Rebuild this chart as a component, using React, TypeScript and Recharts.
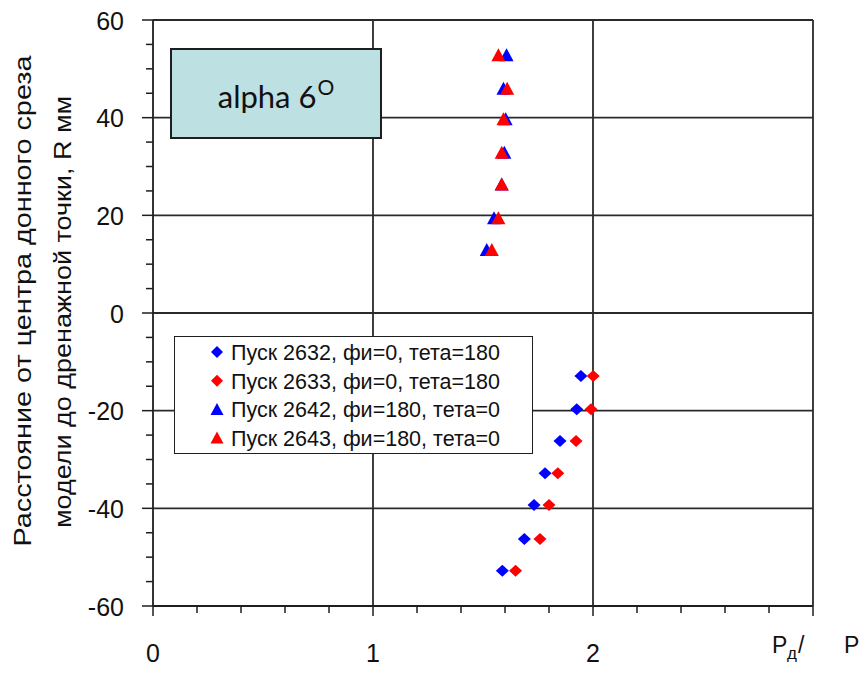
import React from 'react';
import { ScatterChart, Scatter, XAxis, YAxis, ReferenceLine, Legend, Label } from 'recharts';

// R, мм — positions of the drain points
const rUpper = [52.8, 45.9, 39.7, 32.8, 26.3, 19.4, 12.9];
const rLower = [-12.9, -19.7, -26.2, -32.8, -39.3, -46.3, -52.8];

// Pд / P for each run
const p2632 = [1.945, 1.926, 1.85, 1.782, 1.732, 1.688, 1.588];
const p2633 = [2.001, 1.991, 1.923, 1.84, 1.8, 1.759, 1.648];
const p2642 = [1.607, 1.593, 1.603, 1.597, 1.585, 1.55, 1.517];
const p2643 = [1.57, 1.61, 1.593, 1.585, 1.585, 1.57, 1.54];

const seriesNames = [
  'Пуск 2632, фи=0, тета=180',
  'Пуск 2633, фи=0, тета=180',
  'Пуск 2642, фи=180, тета=0',
  'Пуск 2643, фи=180, тета=0',
];

const xTicks = [0, 0.2, 0.4, 0.6, 0.8, 1, 1.2, 1.4, 1.6, 1.8, 2, 2.2, 2.4, 2.6, 2.8, 3];
const yTicks = [-60, -55, -50, -45, -40, -35, -30, -25, -20, -15, -10, -5, 0, 5, 10, 15, 20, 25, 30, 35, 40, 45, 50, 55, 60];
const xGrid = [1, 2, 3];
const yGrid = [-40, -20, 0, 20, 40, 60];

const BLUE = '#0000ff';
const RED = '#ff0000';
const INK = '#1e1e1e';
const FONT = '"Liberation Sans", Arial, sans-serif';

const toPoints = (xs: number[], rs: number[]) => xs.map((x, i) => ({ x, y: rs[i] }));

const diamond = (color: string) => (props: any) => {
  const { cx, cy } = props;
  return (
    <polygon
      points={`${cx},${cy - 6} ${cx + 6.5},${cy} ${cx},${cy + 6} ${cx - 6.5},${cy}`}
      fill={color}
    />
  );
};

const triangle = (color: string) => (props: any) => {
  const { cx, cy } = props;
  return (
    <polygon points={`${cx},${cy - 7} ${cx + 7},${cy + 6} ${cx - 7},${cy + 6}`} fill={color} />
  );
};

const XTick = (props: any) => {
  const { x, y, payload } = props;
  const v = payload.value;
  const major = Math.abs(v - Math.round(v)) < 1e-6;
  return (
    <g>
      <line x1={x} x2={x} y1={y} y2={y + (major ? 10 : 7)} stroke={INK} strokeWidth={1.5} />
      {major && v < 3 && (
        <text x={x} y={y + 56} textAnchor="middle" fontSize={25} fontFamily={FONT} fill="#111">
          {v}
        </text>
      )}
      {v === 3 && (
        <text y={y + 47} fontSize={23} fontFamily={FONT} fill="#111">
          <tspan x={x - 41}>P</tspan>
          <tspan x={x - 26} dy={6} fontSize={17}>
            д
          </tspan>
          <tspan x={x - 15} dy={-6}>
            /
          </tspan>
          <tspan x={x + 31}>P</tspan>
        </text>
      )}
    </g>
  );
};

const YTick = (props: any) => {
  const { x, y, payload } = props;
  const v = payload.value;
  const major = v % 20 === 0;
  return (
    <g>
      <line x1={x - (major ? 11 : 7)} x2={x} y1={y} y2={y} stroke={INK} strokeWidth={1.5} />
      {major && (
        <text x={x - 29} y={y + 9.5} textAnchor="end" fontSize={25} fontFamily={FONT} fill="#111">
          {v}
        </text>
      )}
    </g>
  );
};

const YTitle = (props: any) => {
  const { viewBox } = props;
  const mid = viewBox.y + viewBox.height / 2;
  const c1 = { x: viewBox.x + 22, y: mid - 12 };
  const c2 = { x: viewBox.x + 62, y: mid - 1 };
  return (
    <g fontFamily={FONT} fontSize={24} fill="#111">
      <text
        x={c1.x}
        y={c1.y}
        textAnchor="middle"
        dominantBaseline="central"
        textLength={491}
        lengthAdjust="spacingAndGlyphs"
        transform={`rotate(-90, ${c1.x}, ${c1.y})`}
      >
        Расстояние от центра донного среза
      </text>
      <text
        x={c2.x}
        y={c2.y}
        textAnchor="middle"
        dominantBaseline="central"
        textLength={432}
        lengthAdjust="spacingAndGlyphs"
        transform={`rotate(-90, ${c2.x}, ${c2.y})`}
      >
        модели до дренажной точки, R мм
      </text>
    </g>
  );
};

const renderLegend = (props: any) => {
  const { payload = [] } = props;
  return (
    <div
      style={{
        width: 359,
        height: 118,
        boxSizing: 'border-box',
        border: `1.5px solid ${INK}`,
        background: '#fff',
      }}
    >
      <svg width={356} height={115}>
        {payload.map((entry: any, i: number) => {
          const cy = 15 + i * 28.7;
          const cx = 42;
          const color = entry.color;
          return (
            <g key={entry.value}>
              {entry.type === 'triangle' ? (
                <polygon points={`${cx},${cy - 6.5} ${cx + 6.5},${cy + 5.5} ${cx - 6.5},${cy + 5.5}`} fill={color} />
              ) : (
                <polygon points={`${cx},${cy - 6} ${cx + 6},${cy} ${cx},${cy + 6} ${cx - 6},${cy}`} fill={color} />
              )}
              <text
                x={56}
                y={cy + 8}
                fontSize={22}
                fontFamily={FONT}
                fill="#111"
                textLength={269}
                lengthAdjust="spacingAndGlyphs"
              >
                {entry.value}
              </text>
            </g>
          );
        })}
      </svg>
    </div>
  );
};

export default function App() {
  return (
    <div style={{ position: 'absolute', left: 0, top: 0, width: 866, height: 673, background: '#fff' }}>
      <ScatterChart width={866} height={673} margin={{ top: 20, right: 53, bottom: 0, left: 0 }}>
        <XAxis
          type="number"
          dataKey="x"
          domain={[0, 3]}
          ticks={xTicks}
          interval={0}
          tick={XTick}
          tickLine={false}
          tickSize={0}
          tickMargin={0}
          height={67}
          axisLine={{ stroke: INK, strokeWidth: 1.8 }}
          allowDataOverflow
        />
        <YAxis
          type="number"
          dataKey="y"
          domain={[-60, 60]}
          ticks={yTicks}
          interval={0}
          tick={YTick}
          tickLine={false}
          tickSize={0}
          tickMargin={0}
          width={153}
          axisLine={{ stroke: INK, strokeWidth: 1.8 }}
          allowDataOverflow
        >
          <Label content={YTitle} />
        </YAxis>
        {xGrid.map((v) => (
          <ReferenceLine key={'x' + v} x={v} stroke="#2a2a2a" strokeWidth={1.8} />
        ))}
        {yGrid.map((v) => (
          <ReferenceLine key={'y' + v} y={v} stroke="#2a2a2a" strokeWidth={1.8} />
        ))}
        <Legend
          layout="vertical"
          align="center"
          verticalAlign="middle"
          content={renderLegend}
          wrapperStyle={{ left: 174, top: 336, width: 359, height: 118 }}
        />
        <Scatter
          name={seriesNames[0]}
          data={toPoints(p2632, rLower)}
          fill={BLUE}
          legendType="diamond"
          shape={diamond(BLUE)}
          isAnimationActive={false}
        />
        <Scatter
          name={seriesNames[1]}
          data={toPoints(p2633, rLower)}
          fill={RED}
          legendType="diamond"
          shape={diamond(RED)}
          isAnimationActive={false}
        />
        <Scatter
          name={seriesNames[2]}
          data={toPoints(p2642, rUpper)}
          fill={BLUE}
          legendType="triangle"
          shape={triangle(BLUE)}
          isAnimationActive={false}
        />
        <Scatter
          name={seriesNames[3]}
          data={toPoints(p2643, rUpper)}
          fill={RED}
          legendType="triangle"
          shape={triangle(RED)}
          isAnimationActive={false}
        />
      </ScatterChart>
      <div
        style={{
          position: 'absolute',
          left: 170,
          top: 48,
          width: 212,
          height: 91,
          boxSizing: 'border-box',
          border: `2px solid ${INK}`,
          background: '#bde0e3',
          fontFamily: 'Lato, "Open Sans", sans-serif',
          fontSize: 31,
          color: '#111',
          display: 'flex',
          alignItems: 'center',
          justifyContent: 'center',
        }}
      >
        <span style={{ position: 'relative', top: 2 }}>
          alpha 6
          <span style={{ fontSize: 21, position: 'relative', top: -13, marginLeft: 1 }}>O</span>
        </span>
      </div>
    </div>
  );
}
